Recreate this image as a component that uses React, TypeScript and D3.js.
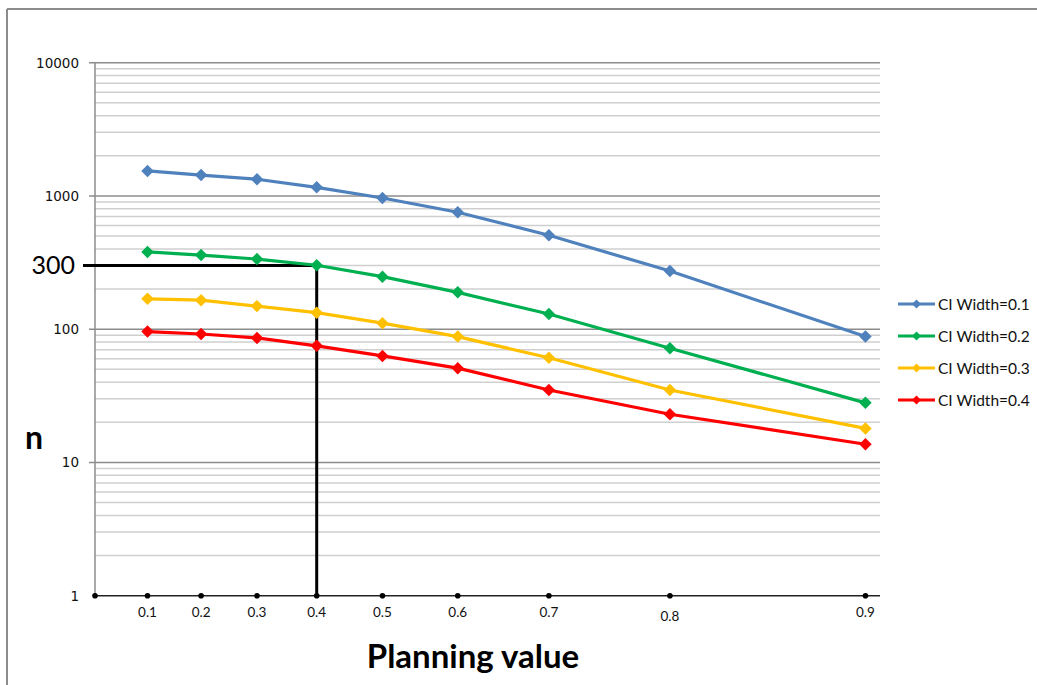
import { useEffect, useRef } from "react";
import * as d3 from "d3";

// planning values (correlation) and required sample sizes
const planningValues = [0.1, 0.2, 0.3, 0.4, 0.5, 0.6, 0.7, 0.8, 0.9];
const seriesNames = ["CI Width=0.1", "CI Width=0.2", "CI Width=0.3", "CI Width=0.4"];
const nWidth01 = [1540, 1435, 1335, 1160, 965, 755, 507, 273, 88];
const nWidth02 = [380, 360, 336, 302, 248, 189, 130, 72, 28];
const nWidth03 = [169, 165, 149, 133, 111, 88, 61, 35, 18];
const nWidth04 = [96, 92, 86, 75, 63, 51, 35, 23, 13.7];
const seriesColors = ["#4f81bd", "#00b050", "#ffc000", "#ff0000"];
const yTicks = [1, 10, 100, 1000, 10000];
const refPlanning = 0.4;
const refN = 300;

const allSeries = [nWidth01, nWidth02, nWidth03, nWidth04];

const App = () => {
  const svgRef = useRef<SVGSVGElement | null>(null);

  useEffect(() => {
    const svg = d3.select(svgRef.current);
    svg.selectAll("*").remove();

    const width = 1037;
    const height = 685;
    const plot = { left: 95, right: 880, top: 62.7, bottom: 595.7 };

    svg.attr("width", width).attr("height", height);

    // outer frame (only top and left edges visible)
    svg.append("line")
      .attr("x1", 7).attr("x2", width).attr("y1", 9).attr("y2", 9)
      .attr("stroke", "#8c8c8c").attr("stroke-width", 2);
    svg.append("line")
      .attr("x1", 7).attr("x2", 7).attr("y1", 9).attr("y2", height)
      .attr("stroke", "#8c8c8c").attr("stroke-width", 2);

    // x axis is spaced by Fisher's z = atanh(r)
    const xScale = d3.scaleLinear().domain([0, 1.5]).range([plot.left, plot.right]);
    const xPos = (p: number) => xScale(Math.atanh(p));
    const yScale = d3.scaleLog().domain([1, 10000]).range([plot.bottom, plot.top]);

    // minor grid
    const minor: number[] = [];
    for (let k = 0; k < 4; k++) {
      for (let m = 2; m <= 9; m++) minor.push(m * Math.pow(10, k));
    }
    svg.append("g")
      .selectAll("line")
      .data(minor)
      .enter()
      .append("line")
      .attr("x1", plot.left).attr("x2", plot.right)
      .attr("y1", (d) => yScale(d)).attr("y2", (d) => yScale(d))
      .attr("stroke", "#cfcfcf").attr("stroke-width", 1.5);

    // major grid + ticks
    svg.append("g")
      .selectAll("line")
      .data(yTicks.slice(1))
      .enter()
      .append("line")
      .attr("x1", plot.left - 6).attr("x2", plot.right)
      .attr("y1", (d) => yScale(d)).attr("y2", (d) => yScale(d))
      .attr("stroke", "#8c8c8c").attr("stroke-width", 1.5);

    svg.append("g")
      .selectAll("text")
      .data(yTicks)
      .enter()
      .append("text")
      .attr("x", 79)
      .attr("y", (d) => yScale(d) + 5)
      .attr("text-anchor", "end")
      .style("font-family", "DejaVu Sans")
      .style("font-size", "13.5px")
      .style("fill", "#111")
      .text((d) => String(d));

    // y axis line
    svg.append("line")
      .attr("x1", plot.left).attr("x2", plot.left)
      .attr("y1", plot.top).attr("y2", plot.bottom)
      .attr("stroke", "#8c8c8c").attr("stroke-width", 1.5);

    // reference lines at planning value 0.4, n = 300
    svg.append("path")
      .attr("d", `M${plot.left - 12},${yScale(refN)}H${xPos(refPlanning)}V${plot.bottom}`)
      .attr("fill", "none")
      .attr("stroke", "#000")
      .attr("stroke-width", 3);

    svg.append("text")
      .attr("x", 75)
      .attr("y", yScale(refN) + 8)
      .attr("text-anchor", "end")
      .style("font-family", "Lato")
      .style("font-size", "25px")
      .text(String(refN));

    // x axis
    svg.append("line")
      .attr("x1", plot.left).attr("x2", plot.right)
      .attr("y1", plot.bottom).attr("y2", plot.bottom)
      .attr("stroke", "#222").attr("stroke-width", 1.5);

    svg.append("g")
      .selectAll("circle")
      .data([0, ...planningValues])
      .enter()
      .append("circle")
      .attr("cx", (d) => xPos(d))
      .attr("cy", plot.bottom)
      .attr("r", 2.8)
      .attr("fill", "#000");

    svg.append("g")
      .selectAll("text")
      .data(planningValues)
      .enter()
      .append("text")
      .attr("x", (d) => xPos(d))
      .attr("y", (d) => (d === 0.8 ? 621 : 617))
      .attr("text-anchor", "middle")
      .style("font-family", "Lato")
      .style("font-size", "13.5px")
      .style("fill", "#111")
      .text((d) => String(d));

    // series
    const line = d3
      .line<number>()
      .x((_, i) => xPos(planningValues[i]))
      .y((d) => yScale(d));

    allSeries.forEach((values, si) => {
      svg.append("path")
        .datum(values)
        .attr("fill", "none")
        .attr("stroke", seriesColors[si])
        .attr("stroke-width", 3.2)
        .attr("d", line);

      svg.append("g")
        .selectAll("path")
        .data(values)
        .enter()
        .append("path")
        .attr("d", d3.symbol(d3.symbolSquare, 78)())
        .attr("transform", (d, i) => `translate(${xPos(planningValues[i])},${yScale(d)}) rotate(45)`)
        .attr("fill", seriesColors[si]);
    });

    // legend
    const legend = svg.append("g").attr("transform", "translate(898,304)");
    seriesNames.forEach((name, i) => {
      const row = legend.append("g").attr("transform", `translate(0,${i * 32})`);
      row.append("line")
        .attr("x1", 0).attr("x2", 37).attr("y1", 0).attr("y2", 0)
        .attr("stroke", seriesColors[i]).attr("stroke-width", 3.2);
      row.append("path")
        .attr("d", d3.symbol(d3.symbolSquare, 40)())
        .attr("transform", "translate(18.5,0) rotate(45)")
        .attr("fill", seriesColors[i]);
      row.append("text")
        .attr("x", 40)
        .attr("y", 5.5)
        .style("font-family", "Lato")
        .style("font-size", "15.5px")
        .style("fill", "#111")
        .text(name);
    });

    // axis titles
    svg.append("text")
      .attr("x", 34)
      .attr("y", 449)
      .attr("text-anchor", "middle")
      .style("font-family", "Lato")
      .style("font-weight", "bold")
      .style("font-size", "32px")
      .text("n");

    svg.append("text")
      .attr("x", 473)
      .attr("y", 668)
      .attr("text-anchor", "middle")
      .style("font-family", "Lato")
      .style("font-weight", "bold")
      .style("font-size", "33px")
      .text("Planning value");
  }, []);

  return (
    <div style={{ position: "absolute", left: 0, top: 0 }}>
      <svg ref={svgRef} style={{ display: "block" }} />
    </div>
  );
};

export default App;
